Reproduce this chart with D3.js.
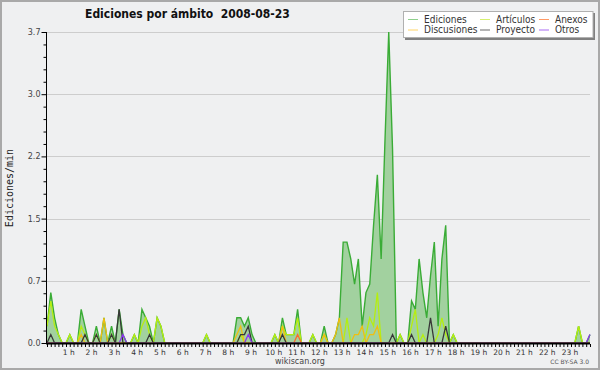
<!DOCTYPE html>
<html><head><meta charset="utf-8">
<script src="https://cdn.jsdelivr.net/npm/d3@7"></script>
<style>body{margin:0;background:#eff0f1} svg{display:block}</style>
</head><body>
<svg id="c" width="600" height="370"></svg>
<script>
const title = "Ediciones por ámbito  2008-08-23";
const yTitle = "Ediciones/min";
const footer = "wikiscan.org";
const license = "CC BY-SA 3.0";
const hourLabels = ["1 h","2 h","3 h","4 h","5 h","6 h","7 h","8 h","9 h","10 h","11 h","12 h",
  "13 h","14 h","15 h","16 h","17 h","18 h","19 h","20 h","21 h","22 h","23 h"];
const yTicks = [0, 0.74, 1.48, 2.22, 2.96, 3.7];
const seriesNames = ["Ediciones","Artículos","Anexos","Discusiones","Proyecto","Otros"];

// values per 10-minute slot (edits / min), 144 slots
const ediciones = [
 0.2,0.6,0.3,0.1,0,0, 0.1,0,0,0.4,0.2,0, 0,0.2,0,0.3,0,0.2, 0,0.4,0.1,0,0,0.1,
 0,0.4,0.3,0.2,0,0.3, 0.2,0,0,0,0,0, 0,0,0,0,0,0, 0.1,0,0,0,0,0,
 0,0,0.3,0.3,0.2,0.3, 0.1,0,0,0,0,0, 0.1,0,0.3,0.1,0.1,0.1, 0.4,0,0,0,0.1,0,
 0,0.2,0,0,0.1,0.3, 1.2,1.2,1.0,0.7,1.0,0.2, 0.6,0.7,1.4,2.0,1.0,2.4, 3.7,2.3,0,0.1,0,0,
 0.5,0.4,1.0,0.6,0.3,0.8, 1.2,0.2,1.0,1.4,0,0.1, 0,0,0,0,0,0, 0,0,0,0,0,0,
 0,0,0,0,0,0, 0,0,0,0,0,0, 0,0,0,0,0,0, 0,0,0.2,0,0,0.1
];
const articulos = [
 0.2,0.5,0.2,0.1,0,0, 0.1,0,0,0.2,0.1,0, 0,0.1,0,0,0,0.1, 0,0,0,0,0,0.1,
 0,0.2,0.3,0.1,0,0.3, 0.2,0,0,0,0,0, 0,0,0,0,0,0, 0.1,0,0,0,0,0,
 0,0,0,0.1,0,0, 0,0,0,0,0,0, 0.1,0,0.2,0.1,0.1,0.1, 0.3,0,0,0,0.1,0,
 0,0.1,0,0,0,0, 0,0.3,0,0,0,0, 0.1,0.3,0.2,0.6,0,0, 0,0,0,0.1,0,0,
 0.2,0.4,0,0.1,0,0, 0,0.1,0.3,0.1,0,0.1, 0,0,0,0,0,0, 0,0,0,0,0,0,
 0,0,0,0,0,0, 0,0,0,0,0,0, 0,0,0,0,0,0, 0,0,0.2,0,0,0
];
const anexos = [
 0,0,0,0,0,0, 0,0,0,0,0,0, 0,0,0,0,0,0, 0,0,0,0,0,0,
 0,0,0,0,0,0, 0,0,0,0,0,0, 0,0,0,0,0,0, 0,0,0,0,0,0,
 0,0,0,0,0,0, 0,0,0,0,0,0, 0,0,0,0,0,0, 0.1,0,0,0,0,0,
 0,0,0,0,0,0, 0,0,0,0,0,0, 0,0,0,0,0,0, 0,0,0,0,0,0,
 0,0,0,0,0,0, 0,0,0,0,0,0, 0,0,0,0,0,0, 0,0,0,0,0,0,
 0,0,0,0,0,0, 0,0,0,0,0,0, 0,0,0,0,0,0, 0,0,0,0,0,0
];
const discusiones = [
 0,0,0,0,0,0, 0,0,0,0.1,0,0, 0,0,0,0.3,0,0, 0,0,0,0,0,0,
 0,0,0,0,0,0, 0,0,0,0,0,0, 0,0,0,0,0,0, 0,0,0,0,0,0,
 0,0,0.1,0.2,0,0, 0,0,0,0,0,0, 0,0,0.2,0,0,0, 0,0,0,0,0,0,
 0,0.1,0,0,0.1,0.3, 0,0,0,0.1,0.1,0.2, 0,0.1,0.1,0.2,0,0, 0,0,0,0,0,0,
 0,0,0,0,0,0, 0,0,0,0,0,0, 0,0,0,0,0,0, 0,0,0,0,0,0,
 0,0,0,0,0,0, 0,0,0,0,0,0, 0,0,0,0,0,0, 0,0,0,0,0,0
];
const proyecto = [
 0,0.1,0,0,0,0, 0,0,0,0,0.1,0, 0,0.1,0,0,0,0.1, 0,0.4,0,0,0,0,
 0,0,0,0.1,0,0, 0,0,0,0,0,0, 0,0,0,0,0,0, 0,0,0,0,0,0,
 0,0,0,0.1,0.1,0.2, 0,0,0,0,0,0, 0,0,0.1,0,0,0, 0,0,0,0,0,0,
 0,0,0,0,0,0, 0,0,0,0,0,0, 0,0,0,0,0,0, 0,0.1,0,0,0,0,
 0.1,0,0,0,0,0.3, 0,0,0,0.2,0,0, 0,0,0,0,0,0, 0,0,0,0,0,0,
 0,0,0,0,0,0, 0,0,0,0,0,0, 0,0,0,0,0,0, 0,0,0,0,0,0
];
const otros = [
 0,0,0,0,0,0, 0,0,0,0,0,0, 0,0,0,0,0,0, 0,0,0.1,0,0,0,
 0,0,0,0,0,0, 0,0,0,0,0,0, 0,0,0,0,0,0, 0,0,0,0,0,0,
 0,0,0,0,0,0.1, 0,0,0,0,0,0, 0,0,0,0,0,0, 0,0,0,0,0,0,
 0,0,0,0,0,0, 0,0,0,0,0,0, 0,0,0,0,0,0, 0,0,0,0,0,0,
 0,0,0,0,0,0, 0,0,0,0,0,0, 0,0,0,0,0,0, 0,0,0,0,0,0,
 0,0,0,0,0,0, 0,0,0,0,0,0, 0,0,0,0,0,0, 0,0,0,0,0,0.1
];

const lineColors = {"Ediciones":"#3aac36","Artículos":"#b6ee10","Anexos":"#ff6a2a",
  "Discusiones":"#f0bf10","Proyecto":"#383838","Otros":"#8a34ee"};
const legendColors = {"Ediciones":"#8fd08c","Artículos":"#d6f070","Anexos":"#ff9a66",
  "Discusiones":"#ffd466","Proyecto":"#6a6a6a","Otros":"#a86af2"};

const svg = d3.select("#c");
const x = d3.scaleLinear().domain([0, 143]).range([47, 590]);
const y = d3.scaleLinear().domain([0, 3.7]).range([343, 32]);
const cond = "'DejaVu Sans Condensed','DejaVu Sans',sans-serif";

svg.append("rect").attr("x",1).attr("y",1).attr("width",598).attr("height",368)
  .attr("fill","#eff0f1").attr("stroke","#a9a9a9").attr("stroke-width",2);

svg.append("defs").append("clipPath").attr("id","plotclip")
  .append("rect").attr("x",40).attr("y",0).attr("width",560).attr("height",342.6);

// grid
svg.append("g").selectAll("line").data(yTicks.slice(1)).join("line")
  .attr("x1",46).attr("x2",590)
  .attr("y1",d=>Math.round(y(d))+0.5).attr("y2",d=>Math.round(y(d))+0.5)
  .attr("stroke","#cdcdcd").attr("stroke-width",1);

const plot = svg.append("g").attr("clip-path","url(#plotclip)");
// Ediciones area
const area = d3.area().x((d,i)=>x(i)).y0(y(0)).y1(d=>y(d));
plot.append("path").datum(ediciones).attr("d",area).attr("fill","#a2d19f");

const line = d3.line().x((d,i)=>x(i)).y(d=>y(d));
const seriesData = [["Ediciones",ediciones],["Artículos",articulos],["Discusiones",discusiones],
  ["Anexos",anexos],["Proyecto",proyecto],["Otros",otros]];
seriesData.forEach(([name,vals])=>{
  plot.append("path").datum(vals).attr("d",line).attr("fill","none")
    .attr("stroke",lineColors[name]).attr("stroke-width",name==="Ediciones"?1.4:1.3)
    .attr("stroke-linejoin","miter");
});

// y axis
const minor = [];
for (let k=0;k<yTicks.length-1;k++) for (let j=1;j<5;j++) minor.push(yTicks[k]+(yTicks[k+1]-yTicks[k])*j/5);
const gyMinor = svg.append("g").attr("transform","translate(46.5,0)")
  .call(d3.axisLeft(y).tickValues(minor).tickSize(3).tickSizeOuter(0).tickFormat(""));
gyMinor.select(".domain").remove();
const gy = svg.append("g").attr("transform","translate(46.5,0)")
  .call(d3.axisLeft(y).tickValues(yTicks).tickSize(5).tickSizeOuter(0).tickFormat(d3.format(".1f")));
gy.select(".domain").remove();
gy.selectAll("text").attr("font-family","'DejaVu Sans',sans-serif").attr("font-size",8)
  .attr("fill","#444").attr("x",-6);
svg.selectAll(".tick line").attr("stroke","#000");
svg.append("line").attr("x1",46.5).attr("x2",46.5).attr("y1",32).attr("y2",344)
  .attr("stroke","#000").attr("stroke-width",1);

// x axis
const gx = svg.append("g").attr("transform","translate(0,344)")
  .call(d3.axisBottom(x).tickValues(d3.range(144)).tickSize(3).tickSizeOuter(0).tickFormat(""));
gx.select(".domain").remove();
gx.selectAll(".tick line").attr("stroke","#000");
svg.append("line").attr("x1",46).attr("x2",590).attr("y1",343.5).attr("y2",343.5)
  .attr("stroke","#000").attr("stroke-width",2);
svg.append("g").selectAll("text").data(hourLabels).join("text")
  .attr("x",(d,i)=>x((i+1)*6)-1).attr("y",355)
  .attr("text-anchor","middle").attr("font-family","'DejaVu Sans',sans-serif")
  .attr("font-size",7.5).attr("fill","#333").text(d=>d);

// titles
svg.append("text").attr("x",85).attr("y",17.5).attr("font-family",cond)
  .attr("font-stretch","condensed").attr("font-weight","bold").attr("font-size",12)
  .attr("fill","#111").attr("xml:space","preserve").style("white-space","pre").text(title);
svg.append("text").attr("transform","translate(13,188) rotate(-90)").attr("text-anchor","middle")
  .attr("font-family","'DejaVu Sans Mono',monospace").attr("font-size",10).attr("fill","#222").text(yTitle);
svg.append("text").attr("x",300).attr("y",363.5).attr("text-anchor","middle")
  .attr("font-family","'DejaVu Sans',sans-serif").attr("font-size",8).attr("fill","#444").text(footer);
svg.append("text").attr("x",589).attr("y",364).attr("text-anchor","end")
  .attr("font-family","'DejaVu Sans',sans-serif").attr("font-size",6).attr("fill","#555").text(license);

// legend
svg.append("rect").attr("x",405).attr("y",13).attr("width",190).attr("height",27).attr("fill","#808080");
svg.append("rect").attr("x",403.5).attr("y",11.5).attr("width",189.5).attr("height",26)
  .attr("fill","#fff").attr("stroke","#b0b0b0").attr("stroke-width",1);
const legendPos = [[408,19],[480,19],[539,19],[408,29.5],[480,29.5],[539,29.5]];
const legendOrder = ["Ediciones","Artículos","Anexos","Discusiones","Proyecto","Otros"];
const lg = svg.append("g").selectAll("g").data(legendOrder).join("g")
  .attr("transform",(d,i)=>`translate(${legendPos[i][0]},${legendPos[i][1]})`);
lg.append("line").attr("x1",0).attr("x2",10).attr("y1",0.5).attr("y2",0.5)
  .attr("stroke",d=>legendColors[d]).attr("stroke-width",1);
lg.append("text").attr("x",16).attr("y",3.5).attr("font-family",cond).attr("font-stretch","condensed")
  .attr("font-size",10).attr("fill","#333").text(d=>d);
</script>
</body></html>
